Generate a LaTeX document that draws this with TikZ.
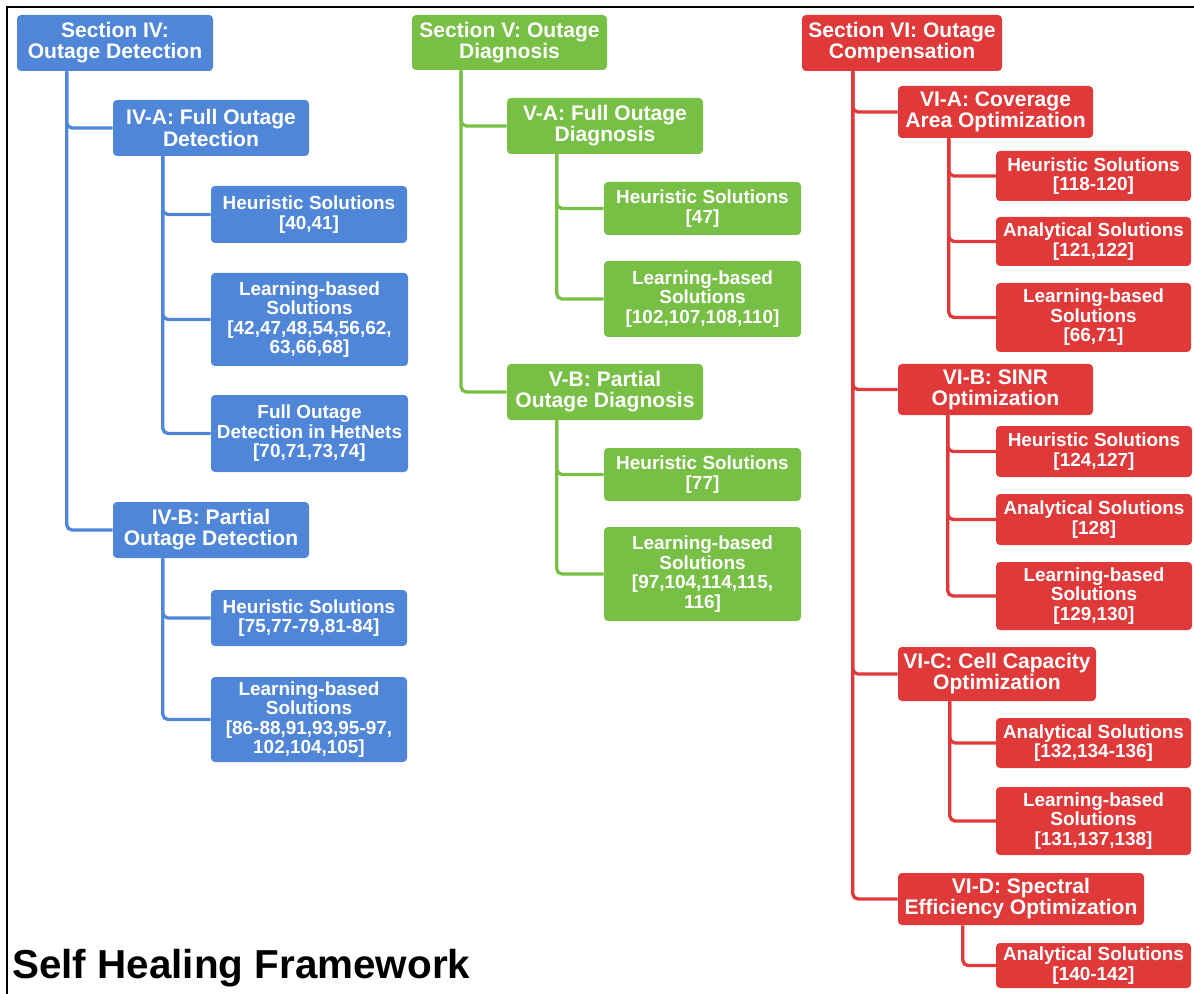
\documentclass[tikz,border=0pt]{standalone}
\usepackage{fontspec}
\setmainfont{Liberation Sans}
\definecolor{cblue}{HTML}{5086D8}
\definecolor{cgreen}{HTML}{77BF45}
\definecolor{cred}{HTML}{E0393A}
\tikzset{
  box/.style={rounded corners=3pt, draw=none, text=white, align=center, inner sep=0pt},
  hd/.style={box, font=\fontsize{15.8}{15.8}\selectfont\bfseries},
  lf/.style={box, font=\fontsize{14.2}{14.6}\selectfont\bfseries},
  sz/.style 2 args={minimum width={#1*0.75pt}, minimum height={#2*0.75pt}},
  conn/.style={draw=#1, line width=2.5pt, rounded corners=4pt},
}
\begin{document}
\begin{tikzpicture}[x=0.75pt, y=-0.75pt]
\useasboundingbox (0,0) rectangle (1194,994);
\draw[line width=2.2pt] (7,994) -- (7,7) -- (1194,7);

% ---------------- blue column
\node[hd, fill=cblue, sz={196}{56}] (s4) at (115,43) {Section IV:\\Outage Detection};
\node[hd, fill=cblue, sz={196}{56}] (iva) at (211,128) {IV-A: Full Outage\\Detection};
\node[lf, fill=cblue, sz={196}{57}] (b1) at (309,214.5) {Heuristic Solutions\\{}[40,41]};
\node[lf, fill=cblue, sz={197}{93}] (b2) at (309.5,319.5) {Learning-based\\Solutions\\{}[42,47,48,54,56,62,\\63,66,68]};
\node[lf, fill=cblue, sz={197}{77}] (b3) at (309.5,433.5) {Full Outage\\Detection in HetNets\\{}[70,71,73,74]};
\node[hd, fill=cblue, sz={196}{56}] (ivb) at (211,530) {IV-B: Partial\\Outage Detection};
\node[lf, fill=cblue, sz={196}{56}] (b4) at (309,618) {Heuristic Solutions\\{}[75,77-79,81-84]};
\node[lf, fill=cblue, sz={196}{85}] (b5) at (309,719.5) {Learning-based\\Solutions\\{}[86-88,91,93,95-97,\\102,104,105]};

\draw[conn=cblue] ([xshift=37.5pt]s4.south west) |- (iva.west);
\draw[conn=cblue] ([xshift=37.5pt]s4.south west) |- (ivb.west);
\draw[conn=cblue] ([xshift=37.5pt]iva.south west) |- (b1.west);
\draw[conn=cblue] ([xshift=37.5pt]iva.south west) |- (b2.west);
\draw[conn=cblue] ([xshift=37.5pt]iva.south west) |- (b3.west);
\draw[conn=cblue] ([xshift=37.5pt]ivb.south west) |- (b4.west);
\draw[conn=cblue] ([xshift=37.5pt]ivb.south west) |- (b5.west);

% ---------------- green column
\node[hd, fill=cgreen, sz={195}{55}] (s5) at (509.5,42.5) {Section V: Outage\\Diagnosis};
\node[hd, fill=cgreen, sz={196}{56}] (va) at (605,126) {V-A: Full Outage\\Diagnosis};
\node[lf, fill=cgreen, sz={197}{53}] (g1) at (702.5,208.5) {Heuristic Solutions\\{}[47]};
\node[lf, fill=cgreen, sz={197}{76}] (g2) at (702.5,299) {Learning-based\\Solutions\\{}[102,107,108,110]};
\node[hd, fill=cgreen, sz={196}{56}] (vb) at (605,392) {V-B: Partial\\Outage Diagnosis};
\node[lf, fill=cgreen, sz={197}{53}] (g3) at (702.5,474.5) {Heuristic Solutions\\{}[77]};
\node[lf, fill=cgreen, sz={197}{94}] (g4) at (702.5,574) {Learning-based\\Solutions\\{}[97,104,114,115,\\116]};

\draw[conn=cgreen] ([xshift=37pt]s5.south west) |- (va.west);
\draw[conn=cgreen] ([xshift=37pt]s5.south west) |- (vb.west);
\draw[conn=cgreen] ([xshift=37.5pt]va.south west) |- (g1.west);
\draw[conn=cgreen] ([xshift=37.5pt]va.south west) |- (g2.west);
\draw[conn=cgreen] ([xshift=37.5pt]vb.south west) |- (g3.west);
\draw[conn=cgreen] ([xshift=37.5pt]vb.south west) |- (g4.west);

% ---------------- red column
\node[hd, fill=cred, sz={200}{56}] (s6) at (902,43) {Section VI: Outage\\Compensation};
\node[hd, fill=cred, sz={195}{52}] (via) at (995.5,112) {VI-A: Coverage\\Area Optimization};
\node[lf, fill=cred, sz={195}{50}] (r1) at (1093.5,176) {Heuristic Solutions\\{}[118-120]};
\node[lf, fill=cred, sz={195}{49}] (r2) at (1093.5,241.5) {Analytical Solutions\\{}[121,122]};
\node[lf, fill=cred, sz={195}{69}] (r3) at (1093.5,317.5) {Learning-based\\Solutions\\{}[66,71]};
\node[hd, fill=cred, sz={195}{51}] (vib) at (995.5,389.5) {VI-B: SINR\\Optimization};
\node[lf, fill=cred, sz={196}{51}] (r4) at (1094,451.5) {Heuristic Solutions\\{}[124,127]};
\node[lf, fill=cred, sz={196}{51}] (r5) at (1094,519.5) {Analytical Solutions\\{}[128]};
\node[lf, fill=cred, sz={196}{68}] (r6) at (1094,596) {Learning-based\\Solutions\\{}[129,130]};
\node[hd, fill=cred, sz={198}{54}] (vic) at (997,674) {VI-C: Cell Capacity\\Optimization};
\node[lf, fill=cred, sz={195}{50}] (r7) at (1093.5,743) {Analytical Solutions\\{}[132,134-136]};
\node[lf, fill=cred, sz={195}{68}] (r8) at (1093.5,821) {Learning-based\\Solutions\\{}[131,137,138]};
\node[hd, fill=cred, sz={246}{52}] (vid) at (1021,899) {VI-D: Spectral\\Efficiency Optimization};
\node[lf, fill=cred, sz={195}{45}] (r9) at (1093.5,965.5) {Analytical Solutions\\{}[140-142]};

\draw[conn=cred] ([xshift=38.25pt]s6.south west) |- (via.west);
\draw[conn=cred] ([xshift=38.25pt]s6.south west) |- (vib.west);
\draw[conn=cred] ([xshift=38.25pt]s6.south west) |- (vic.west);
\draw[conn=cred] ([xshift=38.25pt]s6.south west) |- (vid.west);
\draw[conn=cred] ([xshift=38.25pt]via.south west) |- (r1.west);
\draw[conn=cred] ([xshift=38.25pt]via.south west) |- (r2.west);
\draw[conn=cred] ([xshift=38.25pt]via.south west) |- (r3.west);
\draw[conn=cred] ([xshift=37.5pt]vib.south west) |- (r4.west);
\draw[conn=cred] ([xshift=37.5pt]vib.south west) |- (r5.west);
\draw[conn=cred] ([xshift=37.5pt]vib.south west) |- (r6.west);
\draw[conn=cred] ([xshift=39pt]vic.south west) |- (r7.west);
\draw[conn=cred] ([xshift=39pt]vic.south west) |- (r8.west);
\draw[conn=cred] ([xshift=48.75pt]vid.south west) |- (r9.west);

% ---------------- title
\node[anchor=base west, inner sep=0pt, font=\fontsize{30.3}{36}\selectfont\bfseries] (title) at (12,978) {Self Healing Framework};
\end{tikzpicture}
\end{document}
